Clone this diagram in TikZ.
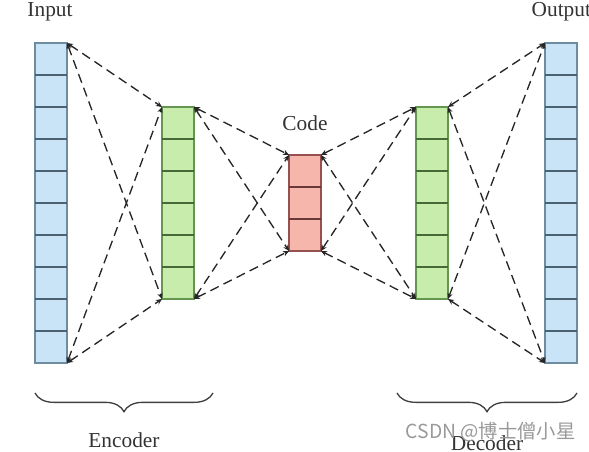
\documentclass[tikz,border=0pt]{standalone}
\usepackage{fontspec}
\setmainfont{Liberation Serif}
\newfontfamily\cjkfont{Noto Sans CJK SC}
\usetikzlibrary{arrows.meta,calc,decorations.pathreplacing}

\definecolor{infill}{RGB}{200,228,246}
\definecolor{inedge}{RGB}{110,140,160}
\definecolor{encfill}{RGB}{200,236,172}
\definecolor{encedge}{RGB}{100,150,80}
\definecolor{codefill}{RGB}{246,182,172}
\definecolor{codeedge}{RGB}{150,80,80}

\begin{document}
\begin{tikzpicture}[x=0.75pt,y=-0.75pt,
  cell/.style={draw, line width=0.8pt, inner sep=0pt, outer sep=0pt, minimum width=24pt},
  link/.style={line width=1pt, dash pattern=on 7pt off 4pt, draw=black!85,
    {Stealth[length=4.5pt,width=4pt]}-{Stealth[length=4.5pt,width=4pt]}},
  lbl/.style={font=\fontsize{16}{18}\selectfont, text=black!80},
  bracket/.style={decorate, decoration={brace, amplitude=14pt, mirror}, line width=1pt, draw=black!75}]

\useasboundingbox (0,0) rectangle (589,452);

% layers
\node[cell, draw=inedge, fill=infill, minimum height=240pt] (in) at (51,203) {};
\node[cell, draw=encedge, fill=encfill, minimum height=144pt] (enc) at (178,203) {};
\node[cell, draw=codeedge, fill=codefill, minimum height=72pt] (code) at (305,203) {};
\node[cell, draw=encedge, fill=encfill, minimum height=144pt] (dec) at (432,203) {};
\node[cell, draw=inedge, fill=infill, minimum height=240pt] (out) at (561,203) {};

% cells
\foreach \i in {1,...,9}{
  \draw[inedge!70!black, line width=0.8pt] ($(in.north west)+(0,\i*32)$) -- ++(32,0);
  \draw[inedge!70!black, line width=0.8pt] ($(out.north west)+(0,\i*32)$) -- ++(32,0);
}
\foreach \i in {1,...,5}{
  \draw[encedge!70!black, line width=0.8pt] ($(enc.north west)+(0,\i*32)$) -- ++(32,0);
  \draw[encedge!70!black, line width=0.8pt] ($(dec.north west)+(0,\i*32)$) -- ++(32,0);
}
\foreach \i in {1,2}
  \draw[codeedge!70!black, line width=0.8pt] ($(code.north west)+(0,\i*32)$) -- ++(32,0);

% links
\foreach \a/\b in {in/enc, enc/code, code/dec, dec/out}
  \foreach \p in {north east, south east}
    \foreach \q in {north west, south west}
      \draw[link] (\a.\p) -- (\b.\q);

% labels
\node[lbl] (inlbl) at (50,12) {Input};
\node[lbl, anchor=west] (outlbl) at (527,12) {Output};
\node[lbl] (codelbl) at (305,123) {Code};

% braces
\coordinate (encl) at (35,393);
\coordinate (encr) at (213,393);
\coordinate (decl) at (397,393);
\coordinate (decr) at (577,393);
\draw[bracket] (encl) -- (encr);
\draw[bracket] (decl) -- (decr);
\node[lbl] (enclbl) at (124,440) {Encoder};
\node[lbl] (declbl) at (487,443) {Decoder};

\node[font=\cjkfont\fontsize{14.5}{16}\selectfont, text=black!40, anchor=west] (mark) at (401,432) {CSDN @博士僧小星};
\end{tikzpicture}
\end{document}
